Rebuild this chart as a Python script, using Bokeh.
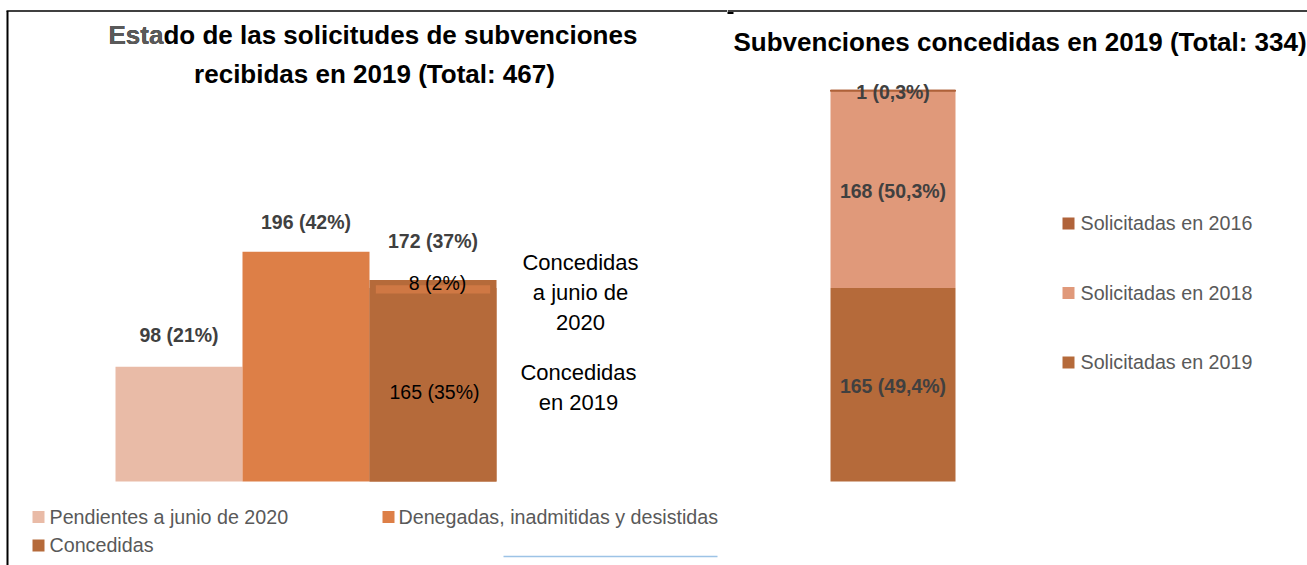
import numpy as np
from bokeh.plotting import figure
from bokeh.layouts import row
from bokeh.models import Range1d
from bokeh.core.properties import value
from bokeh.embed import file_html
from bokeh.resources import INLINE

FONT = "Liberation Sans"

# ---------------- data ----------------
left_title_lines = ["Estado de las solicitudes de subvenciones",
                    "recibidas en 2019 (Total: 467)"]
left_categories = ["Pendientes a junio de 2020",
                   "Denegadas, inadmitidas y desistidas",
                   "Concedidas"]
left_values = [98, 196, 172]
left_labels = ["98 (21%)", "196 (42%)", "172 (37%)"]
concedidas_parts = ["Concedidas en 2019", "Concedidas a junio de 2020"]
concedidas_values = [165, 8]
concedidas_labels = ["165 (35%)", "8 (2%)"]
note_2020 = ["Concedidas", "a junio de", "2020"]
note_2019 = ["Concedidas", "en 2019"]

right_title = "Subvenciones concedidas en 2019 (Total: 334)"
right_series = ["Solicitadas en 2019", "Solicitadas en 2018", "Solicitadas en 2016"]
right_values = [165, 168, 1]
right_labels = ["165 (49,4%)", "168 (50,3%)", "1 (0,3%)"]

# ---------------- style ----------------
C_PEND = "#E9BBA7"
C_DEN = "#DD7F47"
C_CON = "#B56A3A"
C_2018 = "#E0997A"
C_2016 = "#B0633A"
left_colors = [C_PEND, C_DEN, C_CON]
right_colors = [C_CON, C_2018, C_2016]
LABEL_C = "#404040"
LEGEND_C = "#595959"

H = 565
PX = 1.172          # pixels per value unit
BASE = 481          # baseline (page px)
LBL = 19.5
LEG = 19.7
TTL = 26
NOTE = 22


def ly(py):
    return (BASE - py) / PX


BW_L, CX0_L = 127.0, 178.5


def lx(px):
    return (px - CX0_L) / BW_L


BW_R, CX0_R = 125.0, 892.5


def rx(px):
    return (px - CX0_R) / BW_R


def make_fig(width, xr):
    p = figure(width=width, height=H, x_range=Range1d(*xr),
               y_range=Range1d(ly(H), ly(0)), output_backend="svg",
               toolbar_location=None, min_border=0,
               x_axis_location=None, y_axis_location=None,
               outline_line_color=None, background_fill_color="white",
               border_fill_color="white")
    p.grid.visible = False
    return p


def txt(p, x, y, t, size, color="black", bold=False, align="left"):
    # raise slightly so that the drawn baseline lands where intended
    yy = [v + 0.37 * size / PX for v in y]
    p.text(x=x, y=yy, text=t, text_font=value(FONT),
           text_font_size=f"{size}px", text_color=color,
           text_font_style="bold" if bold else "normal",
           text_align=align, text_baseline="alphabetic")


# ================= LEFT CHART =================
left = make_fig(727, (lx(0), lx(727)))
xs = list(range(len(left_categories)))
left.vbar(x=xs, bottom=0, top=left_values, width=1.0,
          fill_color=left_colors, line_color=None)
# stacked parts of "Concedidas"
c_x = xs[2]
left.vbar(x=[c_x], bottom=[0], top=[concedidas_values[0]], width=1.0,
          fill_color=C_CON, line_color=None)
left.vbar(x=[c_x], bottom=[concedidas_values[0] - 4.5],
          top=[concedidas_values[0] + 2.5], width=0.9,
          fill_color="#CF7844", line_color=None)

# value labels above bars
label_off = [24.5, 22.5, 31.5]
txt(left, xs, [v + o / PX for v, o in zip(left_values, label_off)],
    left_labels, LBL, LABEL_C, bold=True, align="center")
txt(left, [c_x + 1.5 / BW_L], [concedidas_values[0] / 2 - 14.5 / PX],
    [concedidas_labels[0]], LBL, "black", align="center")
txt(left, [c_x + 4.5 / BW_L],
    [concedidas_values[0] + concedidas_values[1] / 2 - 7 / PX],
    [concedidas_labels[1]], LBL, "black", align="center")

# notes to the right of the Concedidas bar
txt(left, [lx(580)] * 3, [ly(270), ly(300), ly(330)], note_2020, NOTE,
    "black", align="center")
txt(left, [lx(578)] * 2, [ly(380), ly(410)], note_2019, NOTE,
    "black", align="center")

# title (first letters rendered grey as in the original)
txt(left, [lx(108)], [ly(44)], [left_title_lines[0]], TTL, "black",
    bold=True)
txt(left, [lx(108)], [ly(44)], [left_title_lines[0][:4]], TTL, "#5A5A5A",
    bold=True)
txt(left, [lx(374)], [ly(83)], [left_title_lines[1]], TTL, "black",
    bold=True, align="center")

# legend
leg_pos = [(38, 516.5, 49), (388, 516.5, 398), (38, 545, 49)]
for (sx, sy, tx), name, col in zip(leg_pos, left_categories, left_colors):
    left.scatter(x=[lx(sx)], y=[ly(sy)], marker="square", size=12,
                 fill_color=col, line_color=None)
    txt(left, [lx(tx)], [ly(sy + 7)], [name], LEG, LEGEND_C)

# frame lines
left.segment(x0=[lx(7)], y0=[ly(10.5)], x1=[lx(7)], y1=[ly(H)],
             line_color="black", line_width=2)
left.segment(x0=[lx(6)], y0=[ly(10.5)], x1=[lx(727)], y1=[ly(10.5)],
             line_color="black", line_width=1.5)
left.segment(x0=[lx(503)], y0=[ly(556)], x1=[lx(717)], y1=[ly(556)],
             line_color="#9DC3E6", line_width=1.5)

# ================= RIGHT CHART =================
right = make_fig(580, (rx(727), rx(1307)))
tops = np.cumsum(right_values)
bottoms = tops - np.array(right_values)
right.vbar(x=[0] * len(right_values), bottom=bottoms, top=tops, width=1.0,
           fill_color=right_colors, line_color=None)
right.vbar(x=[0], bottom=[bottoms[-1]], top=[tops[-1]], width=1.0,
           fill_color=C_2016, line_color=C_2016, line_width=1)
mids = (bottoms + tops) / 2
txt(right, [0.0] * 3, list(mids - 8.3 / PX), right_labels, LBL, LABEL_C,
    bold=True, align="center")

txt(right, [rx(733)], [ly(51)], [right_title], TTL, "black", bold=True)

leg_y = [362, 292.5, 223]
for sy, name, col in zip(leg_y, right_series, right_colors):
    right.scatter(x=[rx(1068)], y=[ly(sy)], marker="square", size=12,
                  fill_color=col, line_color=None)
    txt(right, [rx(1080)], [ly(sy + 7)], [name], LEG, LEGEND_C)

right.segment(x0=[rx(727)], y0=[ly(10.5)], x1=[rx(1307)], y1=[ly(10.5)],
              line_color="black", line_width=1.5)
right.segment(x0=[rx(725)], y0=[ly(12.5)], x1=[rx(733)], y1=[ly(12.5)],
              line_color="black", line_width=2)

layout = row(left, right, spacing=0)
open("out.html", "w").write(file_html(layout, INLINE))
